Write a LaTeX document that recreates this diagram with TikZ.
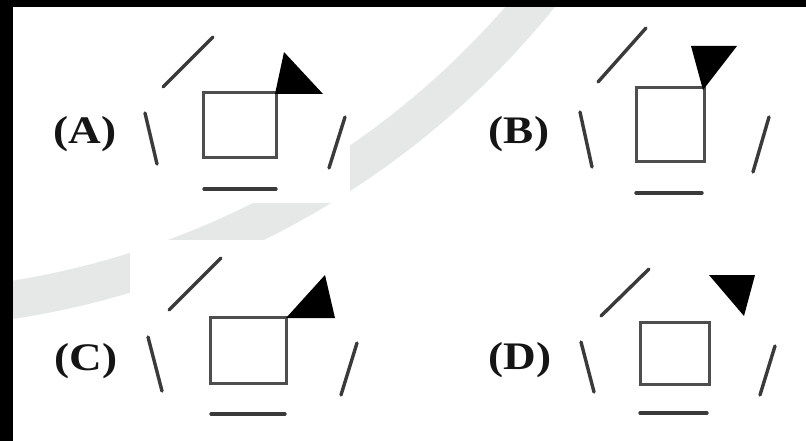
\documentclass[tikz,border=0pt]{standalone}
\usepackage{fontspec}
\setmainfont{Liberation Serif}
\definecolor{linegray}{HTML}{3A3A3A}
\definecolor{boxgray}{HTML}{4E4E4E}
\definecolor{wm}{HTML}{E6E7E7}
\definecolor{labelcol}{HTML}{151515}
\begin{document}
\begin{tikzpicture}[x=1pt,y=-1pt,
  stroke/.style={draw=linegray, line width=3.4pt, line cap=round},
  sq/.style={draw=boxgray, line width=3pt},
  flag/.style={fill=black},
  lab/.style={font=\bfseries\fontsize{39}{39}\selectfont, xscale=1.16, anchor=base, inner sep=0pt, text=labelcol}]
\useasboundingbox (0,0) rectangle (806,441);
\fill[white] (0,0) rectangle (806,441);
% watermark arc
\begin{scope}
  \clip (0,0) rectangle (806,441);
  \draw[line width=38pt, draw=wm] (-119,-537) circle[radius=847pt];
\end{scope}
\fill[white] (13,7) rectangle (350,203);
\fill[white] (130,240) rectangle (420,441);
% frame strips
\fill[black] (0,0) rectangle (806,7);
\fill[black] (0,0) rectangle (13,441);

% Panel A
\node[lab] (labA) at (85,144) {(A)};
\draw[stroke] (163,87) -- (213,37);
\draw[stroke] (145,113) -- (157,164);
\draw[sq] (203,93) rectangle (276,158);
\fill[flag] (275,94) -- (284,52) -- (323,94) -- cycle;
\draw[stroke] (345,117) -- (329,168);
\draw[stroke] (204,189) -- (276,189);

% Panel B
\node[lab] (labB) at (519,143) {(B)};
\draw[stroke] (598,82) -- (646,28);
\draw[stroke] (580,112) -- (592,167);
\draw[sq] (636,88) rectangle (704,162);
\fill[flag] (691,46) -- (737,46) -- (703,90) -- cycle;
\draw[stroke] (769,117) -- (753,172);
\draw[stroke] (636,193) -- (702,193);

% Panel C
\node[lab] (labC) at (86,370) {(C)};
\draw[stroke] (169,310) -- (221,258);
\draw[stroke] (148,337) -- (162,391);
\draw[sq] (210,317) rectangle (286,383);
\fill[flag] (286,318) -- (335,318) -- (325,275) -- cycle;
\draw[stroke] (357,343) -- (341,395);
\draw[stroke] (211,414) -- (285,414);

% Panel D
\node[lab] (labD) at (520,369) {(D)};
\draw[stroke] (601,316) -- (649,269);
\draw[stroke] (581,342) -- (594,392);
\draw[sq] (640,322) rectangle (709,384);
\fill[flag] (709,275) -- (755,275) -- (744,316) -- cycle;
\draw[stroke] (775,346) -- (760,395);
\draw[stroke] (640,413) -- (707,413);
\end{tikzpicture}
\end{document}
